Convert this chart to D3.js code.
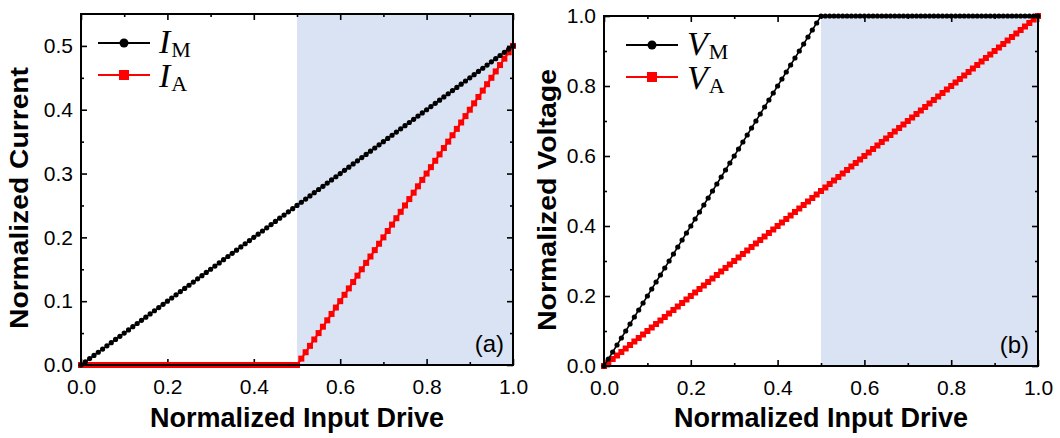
<!DOCTYPE html>
<html>
<head>
<meta charset="utf-8">
<script src="https://cdn.jsdelivr.net/npm/d3@7"></script>
<style>
  body { margin: 0; background: #fff; }
  svg text { font-family: "Liberation Sans", Arial, sans-serif; }
</style>
</head>
<body>
<svg id="chart" width="1060" height="438"></svg>
<script>
// normalized input drive (x for every series)
const drive = [
  0,0.01,0.02,0.03,0.04,0.05,0.06,0.07,0.08,0.09,
  0.1,0.11,0.12,0.13,0.14,0.15,0.16,0.17,0.18,0.19,
  0.2,0.21,0.22,0.23,0.24,0.25,0.26,0.27,0.28,0.29,
  0.3,0.31,0.32,0.33,0.34,0.35,0.36,0.37,0.38,0.39,
  0.4,0.41,0.42,0.43,0.44,0.45,0.46,0.47,0.48,0.49,
  0.5,0.51,0.52,0.53,0.54,0.55,0.56,0.57,0.58,0.59,
  0.6,0.61,0.62,0.63,0.64,0.65,0.66,0.67,0.68,0.69,
  0.7,0.71,0.72,0.73,0.74,0.75,0.76,0.77,0.78,0.79,
  0.8,0.81,0.82,0.83,0.84,0.85,0.86,0.87,0.88,0.89,
  0.9,0.91,0.92,0.93,0.94,0.95,0.96,0.97,0.98,0.99,
  1
];

// panel (a): normalized currents
const iM = [
  0,0.005,0.01,0.015,0.02,0.025,0.03,0.035,0.04,0.045,
  0.05,0.055,0.06,0.065,0.07,0.075,0.08,0.085,0.09,0.095,
  0.1,0.105,0.11,0.115,0.12,0.125,0.13,0.135,0.14,0.145,
  0.15,0.155,0.16,0.165,0.17,0.175,0.18,0.185,0.19,0.195,
  0.2,0.205,0.21,0.215,0.22,0.225,0.23,0.235,0.24,0.245,
  0.25,0.255,0.26,0.265,0.27,0.275,0.28,0.285,0.29,0.295,
  0.3,0.305,0.31,0.315,0.32,0.325,0.33,0.335,0.34,0.345,
  0.35,0.355,0.36,0.365,0.37,0.375,0.38,0.385,0.39,0.395,
  0.4,0.405,0.41,0.415,0.42,0.425,0.43,0.435,0.44,0.445,
  0.45,0.455,0.46,0.465,0.47,0.475,0.48,0.485,0.49,0.495,
  0.5
];
const iA = [
  0,0,0,0,0,0,0,0,0,0,
  0,0,0,0,0,0,0,0,0,0,
  0,0,0,0,0,0,0,0,0,0,
  0,0,0,0,0,0,0,0,0,0,
  0,0,0,0,0,0,0,0,0,0,
  0,0.01,0.02,0.03,0.04,0.05,0.06,0.07,0.08,0.09,
  0.1,0.11,0.12,0.13,0.14,0.15,0.16,0.17,0.18,0.19,
  0.2,0.21,0.22,0.23,0.24,0.25,0.26,0.27,0.28,0.29,
  0.3,0.31,0.32,0.33,0.34,0.35,0.36,0.37,0.38,0.39,
  0.4,0.41,0.42,0.43,0.44,0.45,0.46,0.47,0.48,0.49,
  0.5
];

// panel (b): normalized voltages
const vM = [
  0,0.02,0.04,0.06,0.08,0.1,0.12,0.14,0.16,0.18,
  0.2,0.22,0.24,0.26,0.28,0.3,0.32,0.34,0.36,0.38,
  0.4,0.42,0.44,0.46,0.48,0.5,0.52,0.54,0.56,0.58,
  0.6,0.62,0.64,0.66,0.68,0.7,0.72,0.74,0.76,0.78,
  0.8,0.82,0.84,0.86,0.88,0.9,0.92,0.94,0.96,0.98,
  1,1,1,1,1,1,1,1,1,1,
  1,1,1,1,1,1,1,1,1,1,
  1,1,1,1,1,1,1,1,1,1,
  1,1,1,1,1,1,1,1,1,1,
  1,1,1,1,1,1,1,1,1,1,
  1
];
const vA = [
  0,0.01,0.02,0.03,0.04,0.05,0.06,0.07,0.08,0.09,
  0.1,0.11,0.12,0.13,0.14,0.15,0.16,0.17,0.18,0.19,
  0.2,0.21,0.22,0.23,0.24,0.25,0.26,0.27,0.28,0.29,
  0.3,0.31,0.32,0.33,0.34,0.35,0.36,0.37,0.38,0.39,
  0.4,0.41,0.42,0.43,0.44,0.45,0.46,0.47,0.48,0.49,
  0.5,0.51,0.52,0.53,0.54,0.55,0.56,0.57,0.58,0.59,
  0.6,0.61,0.62,0.63,0.64,0.65,0.66,0.67,0.68,0.69,
  0.7,0.71,0.72,0.73,0.74,0.75,0.76,0.77,0.78,0.79,
  0.8,0.81,0.82,0.83,0.84,0.85,0.86,0.87,0.88,0.89,
  0.9,0.91,0.92,0.93,0.94,0.95,0.96,0.97,0.98,0.99,
  1
];

// ticks
const xMajor = [0, 0.2, 0.4, 0.6, 0.8, 1.0];
const xMinor = [0.1, 0.3, 0.5, 0.7, 0.9];
const yMajorA = [0, 0.1, 0.2, 0.3, 0.4, 0.5];
const yMinorA = [0.05, 0.15, 0.25, 0.35, 0.45];
const yMajorB = [0, 0.2, 0.4, 0.6, 0.8, 1.0];
const yMinorB = [0.1, 0.3, 0.5, 0.7, 0.9];
const shadeRange = [0.5, 1.0];

const svg = d3.select('#chart');
const f1 = d3.format('.1f');

function drawPanel(p) {
  const x = d3.scaleLinear().domain([0, 1]).range([p.left, p.right]);
  const y = d3.scaleLinear().domain(p.yDomain).range([p.bottom, p.top]);
  const g = svg.append('g');

  // shaded region
  g.append('rect')
    .attr('x', x(shadeRange[0])).attr('y', p.top)
    .attr('width', x(shadeRange[1]) - x(shadeRange[0]))
    .attr('height', p.bottom - p.top)
    .attr('fill', '#dae3f3');

  // --- axes (inward ticks on all four sides) ---
  const styleAxis = (sel) => {
    sel.select('.domain').remove();
    sel.selectAll('.tick line').attr('stroke', '#000').attr('stroke-width', 1.6);
    sel.selectAll('text').attr('fill', '#000').style('font-size', '21px');
  };
  g.append('g').attr('transform', `translate(0,${p.bottom})`)
    .call(d3.axisBottom(x).tickValues(xMajor).tickSize(-6).tickPadding(14).tickFormat(f1)).call(styleAxis);
  g.append('g').attr('transform', `translate(0,${p.bottom})`)
    .call(d3.axisBottom(x).tickValues(xMinor).tickSize(-3).tickFormat('')).call(styleAxis);
  g.append('g').attr('transform', `translate(0,${p.top})`)
    .call(d3.axisTop(x).tickValues(xMajor).tickSize(-6).tickFormat('')).call(styleAxis);
  g.append('g').attr('transform', `translate(0,${p.top})`)
    .call(d3.axisTop(x).tickValues(xMinor).tickSize(-3).tickFormat('')).call(styleAxis);
  g.append('g').attr('transform', `translate(${p.left},0)`)
    .call(d3.axisLeft(y).tickValues(p.yMajor).tickSize(-6).tickPadding(8).tickFormat(f1)).call(styleAxis);
  g.append('g').attr('transform', `translate(${p.left},0)`)
    .call(d3.axisLeft(y).tickValues(p.yMinor).tickSize(-3).tickFormat('')).call(styleAxis);
  g.append('g').attr('transform', `translate(${p.right},0)`)
    .call(d3.axisRight(y).tickValues(p.yMajor).tickSize(-6).tickFormat('')).call(styleAxis);
  g.append('g').attr('transform', `translate(${p.right},0)`)
    .call(d3.axisRight(y).tickValues(p.yMinor).tickSize(-3).tickFormat('')).call(styleAxis);

  // --- series ---
  const line = d3.line().x(d => x(d[0])).y(d => y(d[1]));
  const ptsM = drive.map((d, i) => [d, p.mVals[i]]);
  const ptsA = drive.map((d, i) => [d, p.aVals[i]]);

  g.append('path').datum(ptsA).attr('d', line)
    .attr('fill', 'none').attr('stroke', '#ff0000').attr('stroke-width', 2);
  g.selectAll('.sq').data(ptsA).join('rect').attr('class', 'sq')
    .attr('x', d => x(d[0]) - 3).attr('y', d => y(d[1]) - 3)
    .attr('width', 6).attr('height', 6).attr('fill', '#ff0000');

  g.append('path').datum(ptsM).attr('d', line)
    .attr('fill', 'none').attr('stroke', '#000').attr('stroke-width', 1.5);
  g.selectAll('.dot').data(ptsM).join('circle').attr('class', 'dot')
    .attr('cx', d => x(d[0])).attr('cy', d => y(d[1]))
    .attr('r', 2.6).attr('fill', '#000');

  // frame on top of the data
  g.append('rect')
    .attr('x', p.left).attr('y', p.top)
    .attr('width', p.right - p.left).attr('height', p.bottom - p.top)
    .attr('fill', 'none').attr('stroke', '#000').attr('stroke-width', 2);

  // --- legend ---
  const lg = g.append('g').attr('transform', `translate(${p.legX},${p.legY})`);
  lg.append('line').attr('x1', 0).attr('x2', 52).attr('y1', 0).attr('y2', 0)
    .attr('stroke', '#000').attr('stroke-width', 2);
  lg.append('circle').attr('cx', 26).attr('cy', 0).attr('r', 4.5).attr('fill', '#000');
  lg.append('line').attr('x1', 0).attr('x2', 52).attr('y1', 32).attr('y2', 32)
    .attr('stroke', '#ff0000').attr('stroke-width', 2);
  lg.append('rect').attr('x', 21).attr('y', 27).attr('width', 10).attr('height', 10).attr('fill', '#ff0000');

  p.legNames.forEach((nm, i) => {
    const t = lg.append('text').attr('x', 61).attr('y', 10 + i * 34)
      .style('font-family', '"Liberation Serif", "DejaVu Serif", serif').attr('fill', '#000');
    t.append('tspan').style('font-style', 'italic').style('font-size', '34px').text(nm);
    t.append('tspan').style('font-size', '22px').attr('dx', 1).attr('dy', 4).text(p.legSubs[i]);
  });

  // panel tag
  g.append('text').attr('x', p.right - 9).attr('y', p.bottom - 13)
    .attr('text-anchor', 'end').style('font-size', '24px').text(p.tag);

  // axis titles
  g.append('text')
    .attr('x', (p.left + p.right) / 2).attr('y', 427)
    .attr('text-anchor', 'middle').style('font-size', '27px').style('font-weight', 'bold')
    .text('Normalized Input Drive');
  g.append('text')
    .attr('transform', `translate(${p.yTitleX},${p.yTitleY}) rotate(-90)`)
    .attr('text-anchor', 'middle').style('font-size', '25px').style('font-weight', 'bold')
    .attr('textLength', 262).attr('lengthAdjust', 'spacingAndGlyphs')
    .text(p.yTitle);
}

drawPanel({
  left: 81, right: 513, top: 14, bottom: 365,
  yDomain: [0, 0.55], yMajor: yMajorA, yMinor: yMinorA,
  mVals: iM, aVals: iA,
  legX: 98, legY: 43, legNames: ['I', 'I'], legSubs: ['M', 'A'],
  tag: '(a)', yTitle: 'Normalized Current', yTitleX: 28, yTitleY: 198
});

drawPanel({
  left: 604, right: 1038, top: 16, bottom: 366,
  yDomain: [0, 1], yMajor: yMajorB, yMinor: yMinorB,
  mVals: vM, aVals: vA,
  legX: 626, legY: 45, legNames: ['V', 'V'], legSubs: ['M', 'A'],
  tag: '(b)', yTitle: 'Normalized Voltage', yTitleX: 556, yTitleY: 200
});
</script>
</body>
</html>
